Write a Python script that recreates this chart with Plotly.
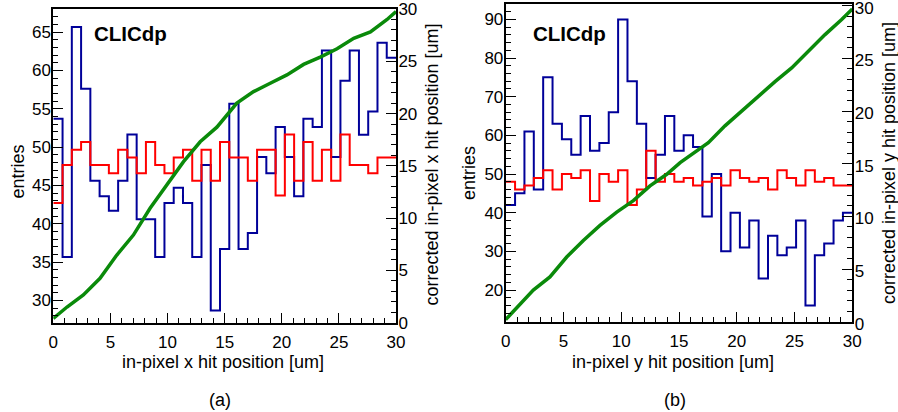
import plotly.graph_objects as go

W, H = 898, 412

# ---------------- data ----------------
n_bins = 37
x_lo, x_hi = 0.0, 30.0
bin_edges = [x_lo + i * (x_hi - x_lo) / n_bins for i in range(n_bins + 1)]

# (a) in-pixel x
blue_x = [53.7, 35.65, 65.65, 57.6, 45.6, 43.6, 41.7, 45.6, 51.65, 40.6,
          40.6, 35.65, 42.7, 44.7, 42.7, 35.65, 47.65, 28.7, 36.7, 55.65,
          36.7, 38.8, 48.7, 46.6, 52.6, 48.7, 43.6, 53.7, 52.6, 62.6,
          48.7, 58.65, 62.6, 51.6, 54.65, 63.6, 61.65]
red_x = [42.7, 47.65, 49.65, 50.65, 47.65, 47.65, 46.6, 49.65, 48.65, 46.6,
         50.65, 47.65, 46.6, 48.65, 49.65, 45.6, 49.65, 45.6, 50.65, 48.65,
         48.65, 45.6, 49.65, 49.65, 43.7, 51.65, 45.6, 50.65, 45.6, 49.65,
         45.6, 51.65, 47.65, 47.65, 46.6, 48.65, 48.65]
green_x_pos = [0, 1.2, 2.63, 4.09, 5.56, 7.01, 8.47, 9.94, 11.4, 12.86, 14.32,
               16.07, 17.53, 18.99, 20.45, 21.91, 23.37, 24.84, 26.3, 27.76,
               29.22, 30]
green_x_val = [0.4, 1.5, 2.65, 4.24, 6.47, 8.38, 10.94, 13.16, 15.4, 17.3, 18.7,
               21.0, 22.1, 22.9, 23.7, 24.7, 25.4, 26.2, 27.2, 27.8, 29.0, 29.75]

# (b) in-pixel y
blue_y = [42, 45, 61, 46, 75, 63, 59, 55, 65, 56,
          58, 66, 90, 74, 63, 49, 55, 65, 56, 60,
          57, 39, 50, 30, 40, 31, 38, 23, 34, 29,
          31, 38, 16, 29, 32, 38, 40]
red_y = [48, 46, 47, 49, 51, 46, 50, 49, 51, 43,
         50, 48, 51, 42, 46, 56, 48, 50, 48, 49,
         47, 48, 49, 47, 51, 49, 48, 49, 46, 51,
         49, 47, 51, 48, 49, 47, 47]
green_y_pos = [0, 2.39, 3.83, 5.28, 6.72, 8.16, 9.61, 11.05, 12.49, 13.94, 15.1,
               17.54, 18.98, 20.42, 21.87, 23.31, 24.75, 26.19, 27.64, 29.08, 30]
green_y_val = [0.2, 3.0, 4.25, 6.14, 7.72, 9.14, 10.4, 11.5, 12.9, 14.0, 15.1,
               17.0, 18.6, 20.0, 21.4, 22.8, 24.1, 25.7, 27.26, 28.7, 29.7]

# text
x_titles = ["in-pixel x hit position [um]", "in-pixel y hit position [um]"]
y_titles = ["entries", "entries"]
y2_titles = ["corrected in-pixel x hit position [um]",
             "corrected in-pixel y hit position [um]"]
panel_labels = ["(a)", "(b)"]
brand = "CLICdp"

# ---------------- style ----------------
BLUE = "#000099"
RED = "#ff0000"
GREEN = "#0a8a0a"
FONT = "Liberation Sans, Arial, Helvetica, sans-serif"
FS_TICK = 17
FS_TITLE = 18


def px(x):
    return x / W


def py(y):
    return 1 - y / H


fig = go.Figure()


def add_panel(xa, ya, ya2, blue, red, gx, gy):
    fig.add_trace(go.Scatter(x=bin_edges, y=blue + [blue[-1]], mode="lines",
                             line=dict(color=BLUE, width=2, shape="hv"),
                             xaxis=xa, yaxis=ya, showlegend=False))
    fig.add_trace(go.Scatter(x=bin_edges, y=red + [red[-1]], mode="lines",
                             line=dict(color=RED, width=2, shape="hv"),
                             xaxis=xa, yaxis=ya, showlegend=False))
    fig.add_trace(go.Scatter(x=gx, y=gy, mode="lines",
                             line=dict(color=GREEN, width=3.5),
                             xaxis=xa, yaxis=ya2, showlegend=False))


add_panel("x", "y", "y2", blue_x, red_x, green_x_pos, green_x_val)
add_panel("x2", "y3", "y4", blue_y, red_y, green_y_pos, green_y_val)

common = dict(showgrid=False, zeroline=False, showline=True, linecolor="black",
              linewidth=2, ticks="inside", tickcolor="black", tickwidth=1,
              ticklen=10, tickfont=dict(family=FONT, size=FS_TICK, color="black"),
              automargin=False, ticklabeloverflow="allow")

xcommon = dict(common, range=[0, 30], dtick=5, tick0=0, mirror=True,
               minor=dict(dtick=1, ticks="inside", ticklen=5, tickcolor="black"),
               ticklabelstandoff=3)
ycommon = dict(common, ticklabelstandoff=-3)

dom_l = [px(53.3), px(396)]
dom_r = [px(505.7), px(852.3)]
ydom_l = [py(322.7), py(9)]
ydom_r = [py(321.7), py(4.3)]

fig.update_layout(
    width=W, height=H,
    margin=dict(l=0, r=0, t=0, b=0),
    paper_bgcolor="white", plot_bgcolor="white",
    font=dict(family=FONT, size=FS_TICK, color="black"),
    xaxis=dict(xcommon, domain=dom_l, anchor="y"),
    yaxis=dict(ycommon, domain=ydom_l, anchor="x", range=[27.1, 68], dtick=5, tick0=0,
               minor=dict(dtick=1, ticks="inside", ticklen=5, tickcolor="black")),
    yaxis2=dict(ycommon, domain=ydom_l, anchor="x", overlaying="y", side="right",
                range=[0, 30], dtick=5, tick0=0,
                minor=dict(dtick=1, ticks="inside", ticklen=5, tickcolor="black")),
    xaxis2=dict(xcommon, domain=dom_r, anchor="y3"),
    yaxis3=dict(ycommon, domain=ydom_r, anchor="x2", range=[11.8, 93.9], dtick=10, tick0=0,
                minor=dict(dtick=2, ticks="inside", ticklen=5, tickcolor="black")),
    yaxis4=dict(ycommon, domain=ydom_r, anchor="x2", overlaying="y3", side="right",
                range=[0, 30.14], dtick=5, tick0=0, ticklabelshift=2,
                minor=dict(dtick=1, ticks="inside", ticklen=5, tickcolor="black")),
)


def ann(text, x, y, size, angle=0):
    fig.add_annotation(text=text, x=px(x), y=py(y), xref="paper", yref="paper",
                       showarrow=False, textangle=angle,
                       xanchor="center", yanchor="middle",
                       font=dict(family=FONT, size=size, color="black"))


# panel (a)
ann("<b>" + brand + "</b>", 130.8, 34, 20.5)
ann(x_titles[0], 223, 362, FS_TITLE)
ann(y_titles[0], 17, 171.5, FS_TITLE, -90)
ann(y2_titles[0], 431.5, 165, FS_TITLE, -90)
ann(panel_labels[0], 220, 400, FS_TITLE)
# panel (b)
ann("<b>" + brand + "</b>", 569, 34, 20.5)
ann(x_titles[1], 673, 362, FS_TITLE)
ann(y_titles[1], 469, 173, FS_TITLE, -90)
ann(y2_titles[1], 889, 163, FS_TITLE, -90)
ann(panel_labels[1], 675, 400, FS_TITLE)

fig.write_html("out.html", config={"displayModeBar": False},
               post_script="document.body.style.margin='0';")
